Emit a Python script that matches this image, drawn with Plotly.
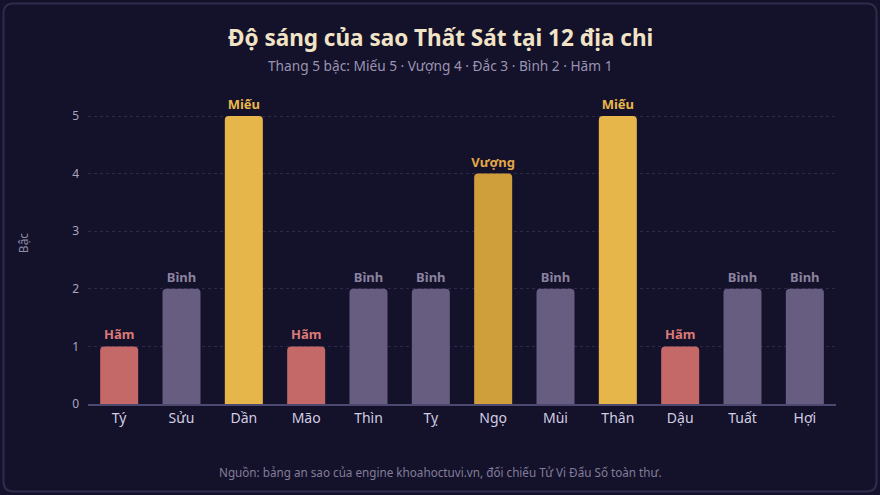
import plotly.graph_objects as go

branches = ["Tý", "Sửu", "Dần", "Mão", "Thìn", "Tỵ", "Ngọ", "Mùi", "Thân", "Dậu", "Tuất", "Hợi"]
levels = [1, 2, 5, 1, 2, 2, 4, 2, 5, 1, 2, 2]
level_names = ["Hãm", "Bình", "Miếu", "Hãm", "Bình", "Bình", "Vượng", "Bình", "Miếu", "Hãm", "Bình", "Bình"]

bar_colors = {"Miếu": "#e6b64a", "Vượng": "#cf9f3c", "Đắc": "#8fae6a", "Bình": "#675d80", "Hãm": "#c46868"}
text_colors = {"Miếu": "#e8b84a", "Vượng": "#e2a848", "Đắc": "#9fbe7a", "Bình": "#8a839f", "Hãm": "#dd7a78"}

W, H = 880, 495
L, R, T, B = 88, 44, 82, 91
pw, ph = W - L - R, H - T - B

def px(x):
    return (x - L) / pw

def py(y):
    return (H - B - y) / ph

fig = go.Figure(go.Bar(
    x=branches, y=levels,
    marker=dict(color=[bar_colors[n] for n in level_names], cornerradius=4, line=dict(width=0)),
    width=0.61,
    text=["<b>" + n + "</b>" for n in level_names], textposition="outside",
    textfont=dict(color=[text_colors[n] for n in level_names], size=13, family="Noto Sans"),
    constraintext="none",
    cliponaxis=False,
    hoverinfo="x+y",
))

# rounded border panel
x0, x1, y0, y1, r = 3.5, 876.5, 3.5, 491.5, 10
path = (f"M {px(x0+r)},{py(y0)} L {px(x1-r)},{py(y0)} Q {px(x1)},{py(y0)} {px(x1)},{py(y0+r)} "
        f"L {px(x1)},{py(y1-r)} Q {px(x1)},{py(y1)} {px(x1-r)},{py(y1)} "
        f"L {px(x0+r)},{py(y1)} Q {px(x0)},{py(y1)} {px(x0)},{py(y1-r)} "
        f"L {px(x0)},{py(y0+r)} Q {px(x0)},{py(y0)} {px(x0+r)},{py(y0)} Z")

fig.update_layout(
    width=W, height=H,
    margin=dict(l=L, r=R, t=T, b=B),
    paper_bgcolor="#14112a", plot_bgcolor="#14112a",
    font=dict(family="Noto Sans", color="#b4aec6"),
    showlegend=False,
    bargap=0.39,
    shapes=[dict(type="path", path=path, xref="paper", yref="paper",
                 line=dict(color="#2f2b4c", width=2), fillcolor="rgba(0,0,0,0)", layer="below")],
    annotations=[
        dict(text="<b>Độ sáng của sao Thất Sát tại 12 địa chi</b>", x=px(440), y=py(38), xref="paper", yref="paper",
             showarrow=False, font=dict(size=22.5, color="#f1e3c6", family="Noto Sans"), xanchor="center", yanchor="middle"),
        dict(text="Thang 5 bậc: Miếu 5 · Vượng 4 · Đắc 3 · Bình 2 · Hãm 1", x=px(440), y=py(66), xref="paper", yref="paper",
             showarrow=False, font=dict(size=13.7, color="#9a94b2"), xanchor="center", yanchor="middle"),
        dict(text="Nguồn: bảng an sao của engine khoahoctuvi.vn, đối chiếu Tử Vi Đẩu Số toàn thư.", x=px(440), y=py(472),
             xref="paper", yref="paper", showarrow=False, font=dict(size=11.7, color="#837d9b"),
             xanchor="center", yanchor="middle"),
    ],
    xaxis=dict(tickfont=dict(size=14, color="#d2cde2"), showgrid=False, showline=True, linecolor="#4d4870",
               linewidth=1.5, ticks="", zeroline=False),
    yaxis=dict(range=[0, ph / 57.6], tickvals=[0, 1, 2, 3, 4, 5], tickfont=dict(size=12, color="#aaa4bf"),
               showgrid=True, gridcolor="#2d2948", griddash="dot", gridwidth=1, zeroline=False,
               title=dict(text="Bậc", font=dict(size=12, color="#8f89a8"), standoff=40), ticklabelstandoff=8),
)

fig.write_html("out.html")
